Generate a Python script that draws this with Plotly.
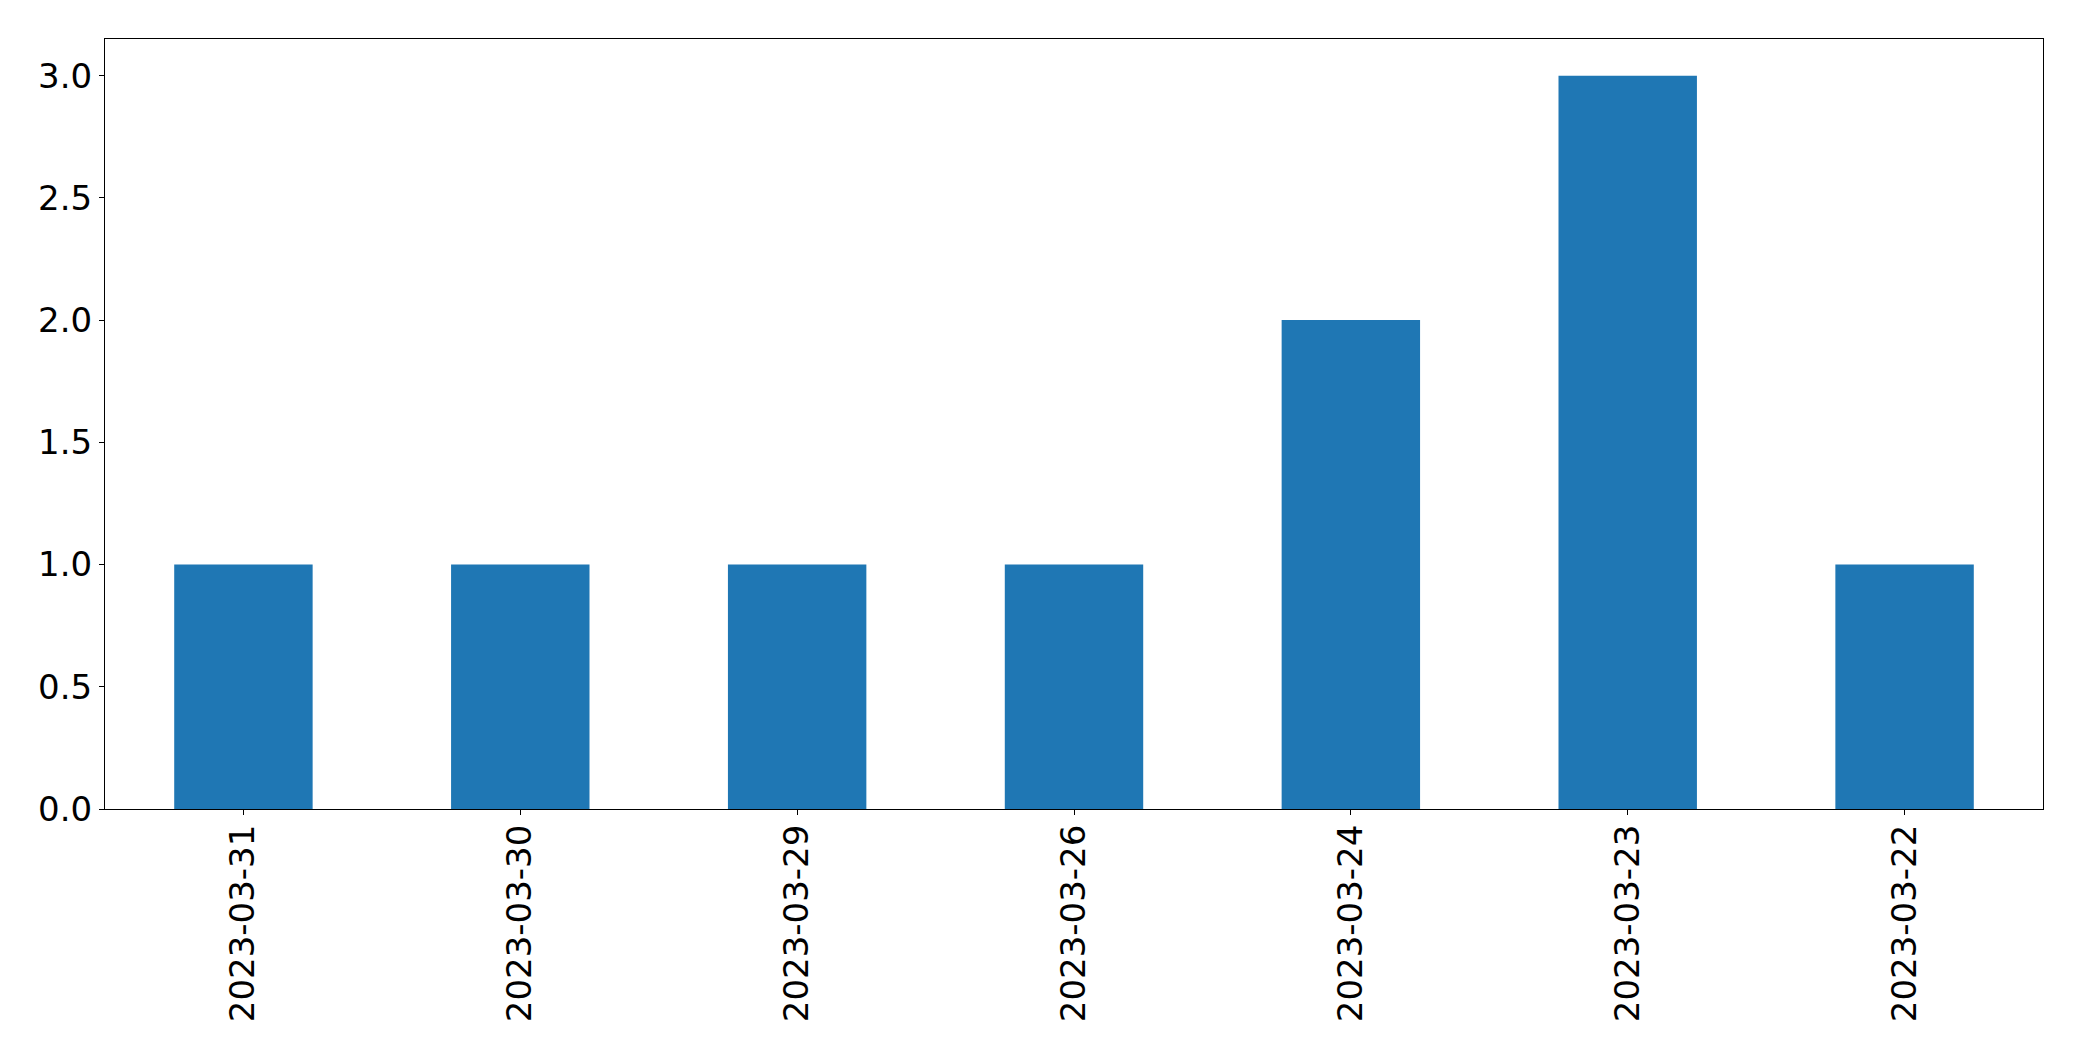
import plotly.graph_objects as go

dates = ["2023-03-31", "2023-03-30", "2023-03-29", "2023-03-26", "2023-03-24", "2023-03-23", "2023-03-22"]
counts = [1, 1, 1, 1, 2, 3, 1]
y_ticks = [0.0, 0.5, 1.0, 1.5, 2.0, 2.5, 3.0]
y_tick_labels = ["0.0", "0.5", "1.0", "1.5", "2.0", "2.5", "3.0"]

fig = go.Figure(go.Bar(x=dates, y=counts, marker=dict(color="#1f77b4", line=dict(width=0)), width=0.5))

font = dict(family="DejaVu Sans", size=34, color="black")
fig.update_layout(
    width=2074, height=1053,
    margin=dict(l=97, r=39, t=31, b=252, pad=0),
    plot_bgcolor="white", paper_bgcolor="white",
    showlegend=False,
    font=font,
)
fig.update_xaxes(
    type="category", range=[-0.5, 6.5],
    tickangle=-90, ticks="outside", ticklen=5, tickwidth=1.1, tickcolor="black",
    ticklabelstandoff=-4,
    showline=True, linecolor="black", linewidth=1.1, mirror=True,
    showgrid=False, zeroline=False, tickfont=font,
)
fig.update_yaxes(
    range=[0, 3.15], tickvals=y_ticks, ticktext=y_tick_labels,
    ticks="outside", ticklen=5, tickwidth=1.1, tickcolor="black",
    showline=True, linecolor="black", linewidth=1.1, mirror=True,
    showgrid=False, zeroline=False, tickfont=font,
)
fig.write_html("out.html")
